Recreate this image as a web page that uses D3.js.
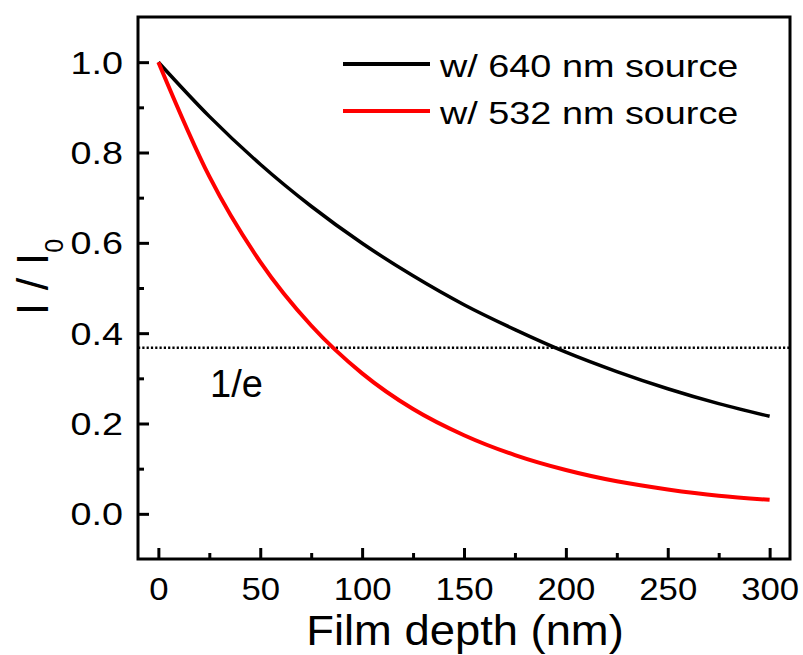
<!DOCTYPE html>
<html>
<head>
<meta charset="utf-8">
<script src="https://cdn.jsdelivr.net/npm/d3@7"></script>
<style>
  body { margin: 0; background: #fff; }
  text { font-family: "Liberation Sans", Arial, sans-serif; fill: #000; }
</style>
</head>
<body>
<svg id="chart" width="803" height="655"></svg>
<script>
// depth values (nm) where the curves were read
let depth = [0, 25, 50, 75, 100, 125, 150, 175, 200, 225, 250, 275, 300];
// I/I0
let red640 = [1.0, 0.880, 0.774, 0.681, 0.599, 0.527, 0.463, 0.408, 0.358, 0.315, 0.277, 0.244, 0.216];
let green532 = [1.0, 0.747, 0.558, 0.417, 0.311, 0.232, 0.174, 0.130, 0.097, 0.072, 0.054, 0.040, 0.031];
let seriesNames = ["w/ 640 nm source", "w/ 532 nm source"];
let seriesColors = ["#000000", "#ff0000"];
let xTicks = [0, 50, 100, 150, 200, 250, 300];
let xMinor = [25, 75, 125, 175, 225, 275];
let yTicks = [0.0, 0.2, 0.4, 0.6, 0.8, 1.0];
let yMinor = [0.1, 0.3, 0.5, 0.7, 0.9];
let invE = 1 / Math.E;

let L = 138, R = 790, T = 17, B = 559;

let svg = d3.select("#chart");

let x = d3.scaleLinear().domain([-10, 310]).range([L, R]);
let y = d3.scaleLinear().domain([-0.1, 1.1]).range([B, T]);

// 1/e dotted reference
svg.append("line")
	.attr("x1", L).attr("x2", R)
	.attr("y1", y(invE)).attr("y2", y(invE))
	.attr("stroke", "#000")
	.attr("stroke-width", 2.5)
	.attr("stroke-dasharray", "2.2,2.1");

svg.append("text")
	.attr("x", 210).attr("y", 397)
	.style("font-size", "38px")
	.text("1/e");

// curves
let line = d3.line()
	.x(function(d){ return x(d[0]); })
	.y(function(d){ return y(d[1]); })
	.curve(d3.curveMonotoneX);

let series = [red640, green532];
series.forEach(function(vals, i){
	svg.append("path")
		.datum(depth.map(function(dd, j){ return [dd, vals[j]]; }))
		.attr("fill", "none")
		.attr("stroke", seriesColors[i])
		.attr("stroke-width", i == 0 ? 3.5 : 4)
		.attr("d", line);
});

// axes (ticks inward)
let xAxis = svg.append("g")
	.attr("transform", "translate(0," + B + ")")
	.call(d3.axisBottom(x).tickValues(xTicks).tickSize(-11).tickPadding(31).tickFormat(d3.format("d")));
svg.append("g")
	.attr("transform", "translate(0," + B + ")")
	.call(d3.axisBottom(x).tickValues(xMinor).tickSize(-6).tickFormat(""));

let yAxis = svg.append("g")
	.attr("transform", "translate(" + L + ",0)")
	.call(d3.axisLeft(y).tickValues(yTicks).tickSize(-11).tickPadding(15).tickFormat(d3.format(".1f")));
svg.append("g")
	.attr("transform", "translate(" + L + ",0)")
	.call(d3.axisLeft(y).tickValues(yMinor).tickSize(-6).tickFormat(""));

svg.selectAll(".domain").remove();
svg.selectAll(".tick line").attr("stroke", "#000").attr("stroke-width", 3);

xAxis.selectAll("text")
	.attr("y", 0).attr("dy", null)
	.attr("transform", "translate(0,41) scale(1.12,1)")
	.style("font-size", "31px")
	.style("font-family", "'Liberation Sans', Arial, sans-serif");

yAxis.selectAll("text")
	.attr("x", 0).attr("dy", null)
	.attr("transform", "translate(-15,11) scale(1.18,1)")
	.style("font-size", "32px")
	.style("font-family", "'Liberation Sans', Arial, sans-serif");

// frame
svg.append("rect")
	.attr("x", L).attr("y", T)
	.attr("width", R - L).attr("height", B - T)
	.attr("fill", "none")
	.attr("stroke", "#000")
	.attr("stroke-width", 3);

// axis titles
svg.append("text")
	.attr("text-anchor", "middle")
	.attr("transform", "translate(465,645) scale(1.08,1)")
	.style("font-size", "42px")
	.text("Film depth (nm)");

let yt = svg.append("text")
	.attr("text-anchor", "middle")
	.attr("transform", "translate(48,277) rotate(-90)")
	.style("font-size", "45px");
yt.append("tspan").text("I / I");
yt.append("tspan").attr("dy", 15).style("font-size", "25px").text("0");

// legend
seriesNames.forEach(function(name, i){
	let ly = 64 + i * 47;
	svg.append("line")
		.attr("x1", 343).attr("x2", 430)
		.attr("y1", ly).attr("y2", ly)
		.attr("stroke", seriesColors[i])
		.attr("stroke-width", 4);
	svg.append("text")
		.attr("transform", "translate(440," + (ly + 13) + ") scale(1.22,1)")
		.style("font-size", "31px")
		.text(name);
});
</script>
</body>
</html>
